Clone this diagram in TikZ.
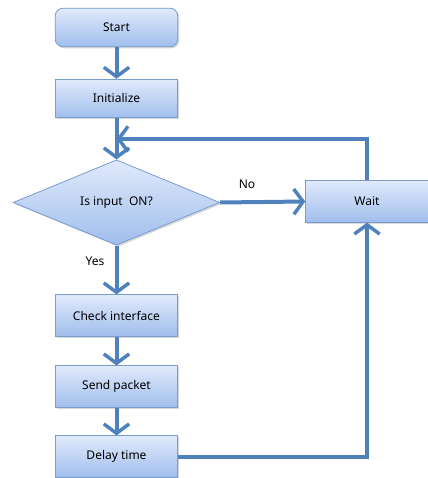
\documentclass[tikz,border=0pt]{standalone}
\usepackage{fontspec}
\setmainfont{Noto Sans}
\usetikzlibrary{shapes.geometric,arrows.meta,shadows}
\definecolor{boxtop}{RGB}{225,234,252}
\definecolor{boxbot}{RGB}{160,190,236}
\definecolor{boxline}{RGB}{120,156,206}
\definecolor{arrowblue}{RGB}{79,129,189}
\tikzset{
  proc/.style={draw=boxline, line width=0.6pt, top color=boxtop, bottom color=boxbot,
    minimum width=92pt, minimum height=31pt, inner sep=0pt, font=\fontsize{9}{11}\selectfont,
    drop shadow={shadow xshift=1.2pt, shadow yshift=-1.2pt, opacity=0.3}},
  startbox/.style={proc, rounded corners=6pt, minimum height=29pt},
  decision/.style={diamond, draw=boxline, line width=0.6pt, top color=boxtop, bottom color=boxbot,
    minimum width=155pt, minimum height=64pt, aspect=2.42, inner sep=0pt, font=\fontsize{9}{11}\selectfont,
    drop shadow={shadow xshift=1.2pt, shadow yshift=-1.2pt, opacity=0.3}},
  flow/.style={draw=arrowblue, line width=3pt, -{Straight Barb[length=7pt,width=19pt,line width=2.6pt]}},
  lbl/.style={font=\fontsize{9}{11}\selectfont}
}
\begin{document}
\begin{tikzpicture}[x=0.75pt,y=-0.75pt]
\useasboundingbox (0,0) rectangle (428,478);
\node[startbox] (start) at (116.5,27.5) {Start};
\node[proc, minimum height=29pt] (init) at (116.5,98.5) {Initialize};
\node[decision] (dec) at (116.5,202.5) {Is input\ \ ON?};
\node[proc] (wait) at (367,201.5) {Wait};
\node[proc] (check) at (116.5,315.5) {Check interface};
\node[proc] (send) at (116.5,386.5) {Send packet};
\node[proc] (delay) at (116.5,456.5) {Delay time};
\coordinate (join) at (116.5,139);
\node[lbl] (no) at (247,184) {No};
\node[lbl] (yes) at (95,261) {Yes};

\draw[flow] (start) -- (init);
\draw[flow] (init) -- (dec);
\draw[flow] (wait.north) |- (join);
\draw[flow] (dec.east) -- (wait.west);
\draw[flow] (dec.south) -- (check.north);
\draw[flow] (check) -- (send);
\draw[flow] (send) -- (delay);
\draw[flow] (delay.east) -| (wait.south);
\end{tikzpicture}
\end{document}
